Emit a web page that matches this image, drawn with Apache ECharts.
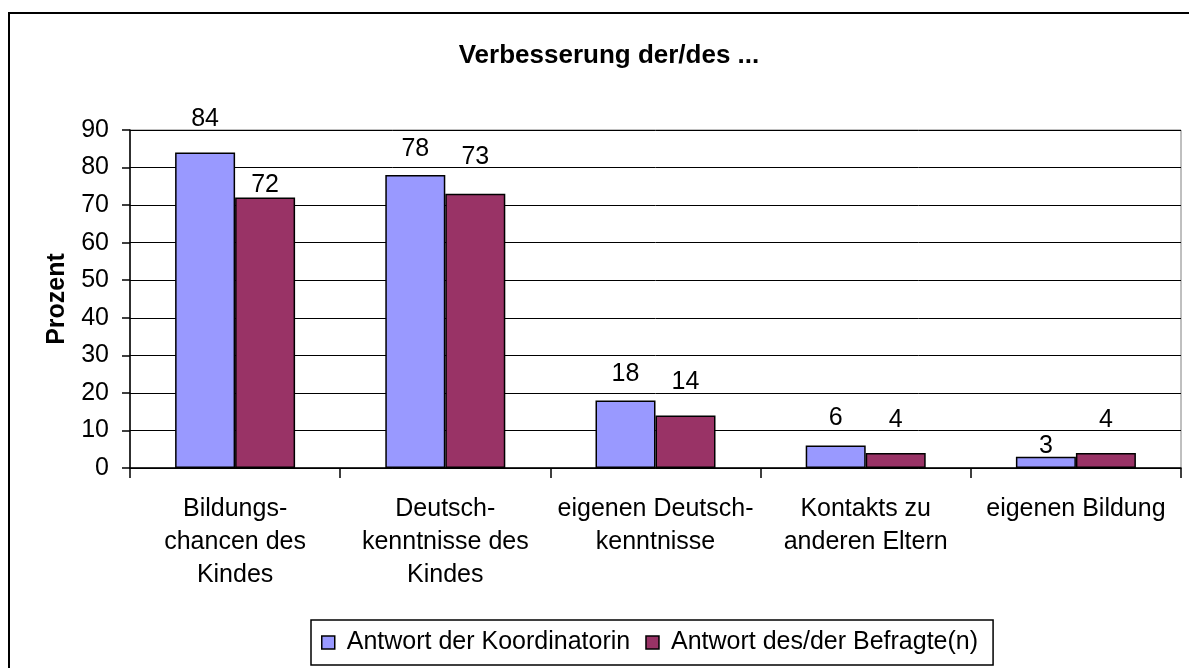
<!DOCTYPE html>
<html>
<head>
<meta charset="utf-8">
<script src="https://cdn.jsdelivr.net/npm/echarts@6/dist/echarts.min.js"></script>
<style>
  html, body { margin: 0; padding: 0; background: #fff; }
  #chart { width: 1189px; height: 668px; }
</style>
</head>
<body>
<div id="chart"></div>
<script>
const categories = [
  'Bildungs-\nchancen des\nKindes',
  'Deutsch-\nkenntnisse des\nKindes',
  'eigenen Deutsch-\nkenntnisse',
  'Kontakts zu\nanderen Eltern',
  'eigenen Bildung'
];
const koordinatorin = [84, 78, 18, 6, 3];
const befragte = [72, 73, 14, 4, 4];
const yTicks = [0, 10, 20, 30, 40, 50, 60, 70, 80, 90];

// label placement above each bar (px), as in the original layout
const koordLabelGap = [21, 13, 14, 15, -2];
const befrLabelGap = [0, 24, 21, 20, 20];

const font = 'Liberation Sans, Arial, sans-serif';
const chart = echarts.init(document.getElementById('chart'));

function withLabels(values, gaps) {
  return values.map((v, i) => ({
    value: v,
    label: { distance: gaps[i] }
  }));
}

const labelStyle = {
  show: true,
  position: 'top',
  color: '#000',
  fontFamily: font,
  fontSize: 25
};

chart.setOption({
  backgroundColor: '#fff',
  animation: false,
  title: {
    text: 'Verbesserung der/des ...',
    left: 604,
    top: 38,
    textAlign: 'center',
    textStyle: { fontFamily: font, fontSize: 26, fontWeight: 'bold', color: '#000' }
  },
  graphic: [{
    type: 'rect',
    shape: { x: 9, y: 13, width: 1200, height: 700 },
    style: { fill: 'none', stroke: '#000', lineWidth: 2 },
    silent: true,
    z: -1
  }],
  legend: {
    bottom: 3,
    left: 311,
    itemWidth: 13,
    itemHeight: 13,
    itemGap: 15,
    icon: 'rect',
    borderColor: '#000',
    borderWidth: 1.5,
    padding: [10, 15, 10, 10],
    itemStyle: { borderColor: '#000', borderWidth: 1.5 },
    textStyle: { fontFamily: font, fontSize: 25, color: '#000', padding: [0, 0, 0, 7] },
    data: ['Antwort der Koordinatorin', 'Antwort des/der Befragte(n)']
  },
  grid: {
    left: 130,
    right: 8,
    top: 130,
    bottom: 200,
    show: true,
    borderColor: '#808080',
    borderWidth: 1
  },
  xAxis: {
    type: 'category',
    data: categories,
    axisLine: { lineStyle: { color: '#000', width: 1.5 } },
    axisTick: { show: true, length: 10, lineStyle: { color: '#000', width: 1.5 } },
    axisLabel: {
      interval: 0,
      color: '#000',
      fontFamily: font,
      fontSize: 25,
      lineHeight: 33,
      margin: 25
    }
  },
  yAxis: {
    type: 'value',
    min: 0,
    max: 90,
    interval: 10,
    name: 'Prozent',
    nameLocation: 'middle',
    nameGap: 60,
    nameTextStyle: { fontFamily: font, fontSize: 25, fontWeight: 'bold', color: '#000' },
    axisLine: { show: true, lineStyle: { color: '#000', width: 1.5 } },
    axisTick: { show: true, length: 8, lineStyle: { color: '#000', width: 1.5 } },
    axisLabel: {
      color: '#000',
      fontFamily: font,
      fontSize: 25,
      margin: 21,
      formatter: v => yTicks.includes(v) ? String(v) : ''
    },
    splitLine: { lineStyle: { color: '#000', width: 1 } }
  },
  series: [
    {
      name: 'Antwort der Koordinatorin',
      type: 'bar',
      barWidth: 60,
      barGap: '0%',
      data: withLabels(koordinatorin, koordLabelGap),
      itemStyle: { color: '#9999FF', borderColor: '#000', borderWidth: 1.5 },
      label: labelStyle
    },
    {
      name: 'Antwort des/der Befragte(n)',
      type: 'bar',
      barWidth: 60,
      data: withLabels(befragte, befrLabelGap),
      itemStyle: { color: '#993366', borderColor: '#000', borderWidth: 1.5 },
      label: labelStyle
    }
  ]
});
</script>
</body>
</html>
